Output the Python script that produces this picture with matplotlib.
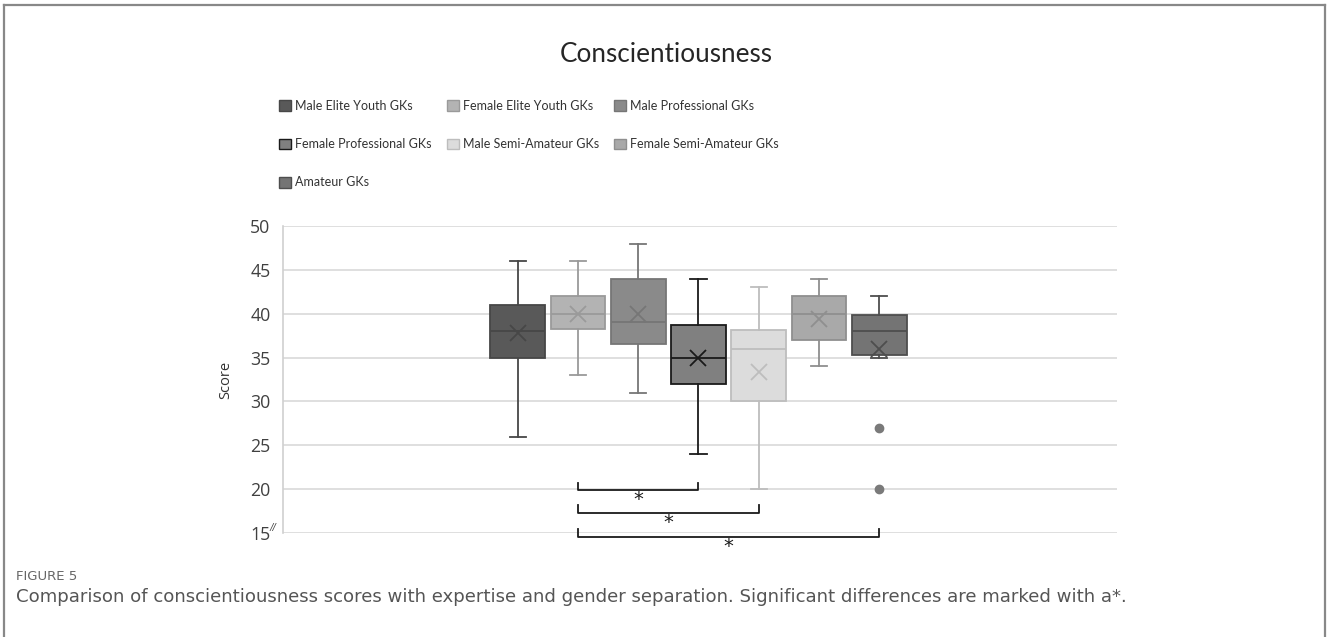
import matplotlib
matplotlib.use("Agg")
import matplotlib.pyplot as plt
from matplotlib.patches import Patch
from matplotlib.lines import Line2D

# goalkeeper groups and box plot summary values
groups = ['Male Elite Youth GKs', 'Female Elite Youth GKs', 'Male Professional GKs',
          'Female Professional GKs', 'Male Semi-Amateur GKs', 'Female Semi-Amateur GKs',
          'Amateur GKs']
q1 = [35, 38.25, 36.5, 32, 30, 37, 35.25]
median = [38, 40, 39, 35, 36, 40, 38]
q3 = [41, 42, 44, 38.75, 38.1, 42, 39.85]
whislo = [26, 33, 31, 24, 20, 34, 35]
whishi = [46, 46, 48, 44, 43, 44, 42]
means = [37.8, 40, 40, 35, 33.3, 39.4, 36]
outliers = [[], [], [], [], [], [], [27, 20]]

fills = ['#595959', '#b3b3b3', '#8a8a8a', '#808080', '#dcdcdc', '#a9a9a9', '#747474']
edges = ['#474747', '#9a9a9a', '#767676', '#1a1a1a', '#bdbdbd', '#8f8f8f', '#4e4e4e']

# significant pairs (group index) and bracket heights
sig_pairs = [(1, 3), (1, 4), (1, 6)]
sig_levels = [19.9, 17.3, 14.55]

W, H = 1328, 637
fig = plt.figure(figsize=(W / 100, H / 100), dpi=100)
ax = fig.add_axes([283 / W, 1 - 533 / H, 834 / W, 307 / H])

stats = []
for i in range(len(groups)):
    stats.append(dict(q1=q1[i], med=median[i], q3=q3[i], whislo=whislo[i],
                      whishi=whishi[i], mean=means[i], fliers=outliers[i]))

pos = list(range(len(groups)))
for i, s in enumerate(stats):
    ax.bxp([s], positions=[pos[i]], widths=0.91, patch_artist=True, showmeans=True,
           capwidths=0.27,
           boxprops=dict(facecolor=fills[i], edgecolor=edges[i], linewidth=1.3),
           medianprops=dict(color=edges[i], linewidth=1.3),
           whiskerprops=dict(color=edges[i], linewidth=1.3),
           capprops=dict(color=edges[i], linewidth=1.3),
           meanprops=dict(marker='x', markeredgecolor=edges[i], markersize=11,
                          markeredgewidth=1.3),
           flierprops=dict(marker='o', markerfacecolor='#7a7a7a', markeredgecolor='#7a7a7a',
                           markersize=6))

ax.set_xlim(-3.9, 9.95)
ax.set_ylim(15, 50)
ax.set_yticks(range(15, 51, 5))
ax.set_xticks([])
ax.yaxis.grid(True, color='#d9d9d9', linewidth=1.2)
ax.set_axisbelow(True)
for sp in ['top', 'right', 'bottom']:
    ax.spines[sp].set_visible(False)
ax.spines['left'].set_color('#d0d0d0')
ax.spines['left'].set_linewidth(1.2)
ax.tick_params(axis='y', length=0, pad=9, labelsize=12.8, labelcolor='#404040')
for lab in ax.get_yticklabels():
    lab.set_family('Open Sans')
ax.set_ylabel('Score', family='Open Sans', fontsize=10.5, color='#333333', labelpad=12)
ax.annotate('//', xy=(0, 15), xycoords=('axes fraction', 'data'), xytext=(-10, -1),
            textcoords='offset pixels', ha='center', va='bottom', fontsize=7,
            family='Open Sans', color='#404040', style='italic')

# significance brackets
for (a, b), lvl in zip(sig_pairs, sig_levels):
    ax.plot([a, a, b, b], [lvl + 0.85, lvl, lvl, lvl + 0.85], color='#1a1a1a',
            linewidth=1.3, clip_on=False)
    ax.text((a + b) / 2, lvl - 1.1, '*', ha='center', va='center', fontsize=14,
            color='#1a1a1a', clip_on=False)

fig.text(666 / W, 1 - 55 / H, 'Conscientiousness', ha='center', va='center',
         family='Lato', fontsize=18.8, color='#262626')

# legend laid out row by row
handles = [Patch(facecolor=fills[i], edgecolor=edges[i], linewidth=1) for i in range(len(groups))]
order = [0, 3, 6, 1, 4, 2, 5]
leg = fig.legend([handles[i] for i in order], [groups[i] for i in order], ncol=3,
                 loc='upper left', bbox_to_anchor=(279 / W, 1 - 100 / H), frameon=False,
                 prop={'family': 'Lato', 'size': 9.0},
                 handlelength=0.95, handleheight=0.95, handletextpad=0.35,
                 columnspacing=1.2, labelspacing=2.1, borderpad=0, borderaxespad=0)
for t in leg.get_texts():
    t.set_color('#333333')

fig.text(16 / W, 1 - 576 / H, 'FIGURE 5', ha='left', va='center', family='DejaVu Sans',
         fontsize=9.5, color='#666666')
fig.text(16 / W, 1 - 597 / H,
         'Comparison of conscientiousness scores with expertise and gender separation. '
         'Significant differences are marked with a*.',
         ha='left', va='center', family='DejaVu Sans', fontsize=13.1, color='#555555')

# page frame
frame = dict(transform=fig.transFigure, color='#888888', linewidth=1.6)
fig.add_artist(Line2D([4 / W, 4 / W], [0, 1 - 5 / H], **frame))
fig.add_artist(Line2D([4 / W, 1325 / W], [1 - 5 / H, 1 - 5 / H], **frame))
fig.add_artist(Line2D([1325 / W, 1325 / W], [1 - 5 / H, 0], **frame))

fig.savefig('out.png', dpi=100)
